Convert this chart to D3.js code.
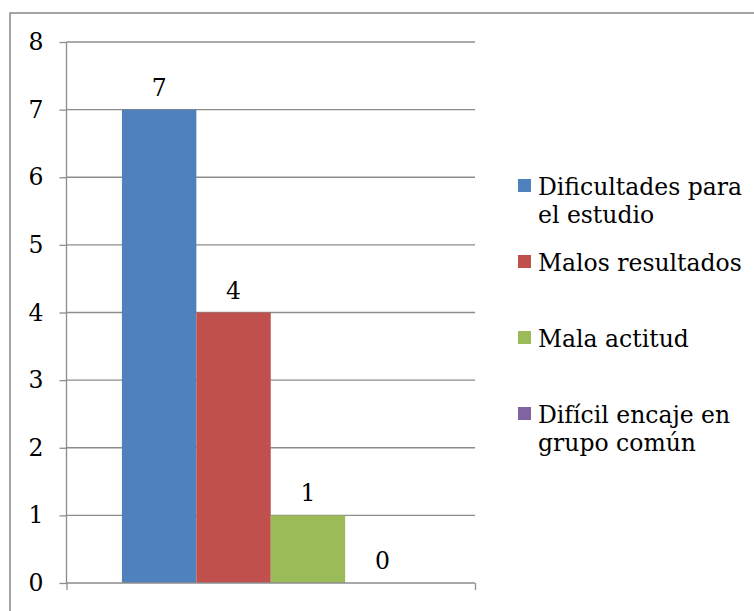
<!DOCTYPE html>
<html>
<head>
<meta charset="utf-8">
<script src="https://cdn.jsdelivr.net/npm/d3@7"></script>
<style>
  html, body { margin: 0; padding: 0; background: #fff; }
  svg { display: block; }
  text { font-family: "DejaVu Serif", "Liberation Serif", serif; fill: #000; }
</style>
</head>
<body>
<svg id="chart" width="754" height="611"></svg>
<script>
const categories = ["Dificultades para el estudio", "Malos resultados", "Mala actitud", "Difícil encaje en grupo común"];
const legendLines = [["Dificultades para", "el estudio"], ["Malos resultados"], ["Mala actitud"], ["Difícil encaje en", "grupo común"]];
const values = [7, 4, 1, 0];
const colors = ["#4F81BD", "#C0504D", "#9BBB59", "#8064A2"];
const yTicks = [0, 1, 2, 3, 4, 5, 6, 7, 8];

const svg = d3.select("#chart");
const fontSize = 23.5;

// outer border (clipped at right/bottom like the reference)
svg.append("rect")
  .attr("x", 10).attr("y", 13)
  .attr("width", 800).attr("height", 700)
  .attr("fill", "none").attr("stroke", "#878787").attr("stroke-width", 1.5);

const plot = { left: 66.5, right: 475, top: 42, bottom: 583 };

const y = d3.scaleLinear().domain([0, 8]).range([plot.bottom, plot.top]);
const x = d3.scaleBand().domain(["g"]).range([plot.left, plot.right]).paddingInner(0).paddingOuter(0);
const inner = d3.scaleBand().domain(categories).range([0, x.bandwidth()]).paddingOuter(0.745).paddingInner(0);

// gridlines
svg.append("g").selectAll("line").data(yTicks.filter(d => d > 0)).join("line")
  .attr("x1", plot.left).attr("x2", plot.right)
  .attr("y1", d => y(d)).attr("y2", d => y(d))
  .attr("stroke", "#8c8c8c").attr("stroke-width", 1.3);

// bars
const g = svg.append("g").attr("transform", `translate(${x("g")},0)`);
g.selectAll("rect").data(values).join("rect")
  .attr("x", (d, i) => inner(categories[i]))
  .attr("width", inner.bandwidth())
  .attr("y", d => y(d))
  .attr("height", d => y(0) - y(d))
  .attr("fill", (d, i) => colors[i]);

// data labels
g.selectAll("text.lbl").data(values).join("text")
  .attr("class", "lbl")
  .attr("x", (d, i) => inner(categories[i]) + inner.bandwidth() / 2)
  .attr("y", d => y(d) - 14)
  .attr("text-anchor", "middle")
  .attr("font-size", fontSize)
  .text(d => d);

// y axis
const yAxis = d3.axisLeft(y).tickValues(yTicks).tickSize(7).tickPadding(16).tickFormat(d3.format("d"));
const ya = svg.append("g").attr("transform", `translate(${plot.left},0)`).call(yAxis);
ya.select(".domain").attr("stroke", "#8c8c8c").attr("stroke-width", 1.3).attr("d", `M0,${plot.top}V${plot.bottom}`);
ya.selectAll(".tick line").attr("stroke", "#8c8c8c").attr("stroke-width", 1.3);
ya.selectAll(".tick text").attr("font-size", fontSize).attr("font-family", "DejaVu Serif").attr("fill", "#000");

// x axis
const xAxis = d3.axisBottom(d3.scaleLinear().domain([0, 1]).range([plot.left, plot.right])).tickValues([0, 1]).tickSize(7).tickFormat("");
const xa = svg.append("g").attr("transform", `translate(0,${plot.bottom})`).call(xAxis);
xa.select(".domain").attr("stroke", "#8c8c8c").attr("stroke-width", 1.3).attr("d", `M${plot.left},0H${plot.right}`);
xa.selectAll(".tick line").attr("stroke", "#8c8c8c").attr("stroke-width", 1.3);

// legend
const legendTops = [179, 255, 331, 407];
const leg = svg.append("g");
legendLines.forEach((lines, i) => {
  leg.append("rect").attr("x", 518).attr("y", legendTops[i]).attr("width", 13).attr("height", 13).attr("fill", colors[i]);
  const t = leg.append("text").attr("x", 538).attr("y", legendTops[i] + 16).attr("font-size", fontSize);
  lines.forEach((ln, j) => t.append("tspan").attr("x", 538).attr("dy", j === 0 ? 0 : 28).text(ln));
});
</script>
</body>
</html>
